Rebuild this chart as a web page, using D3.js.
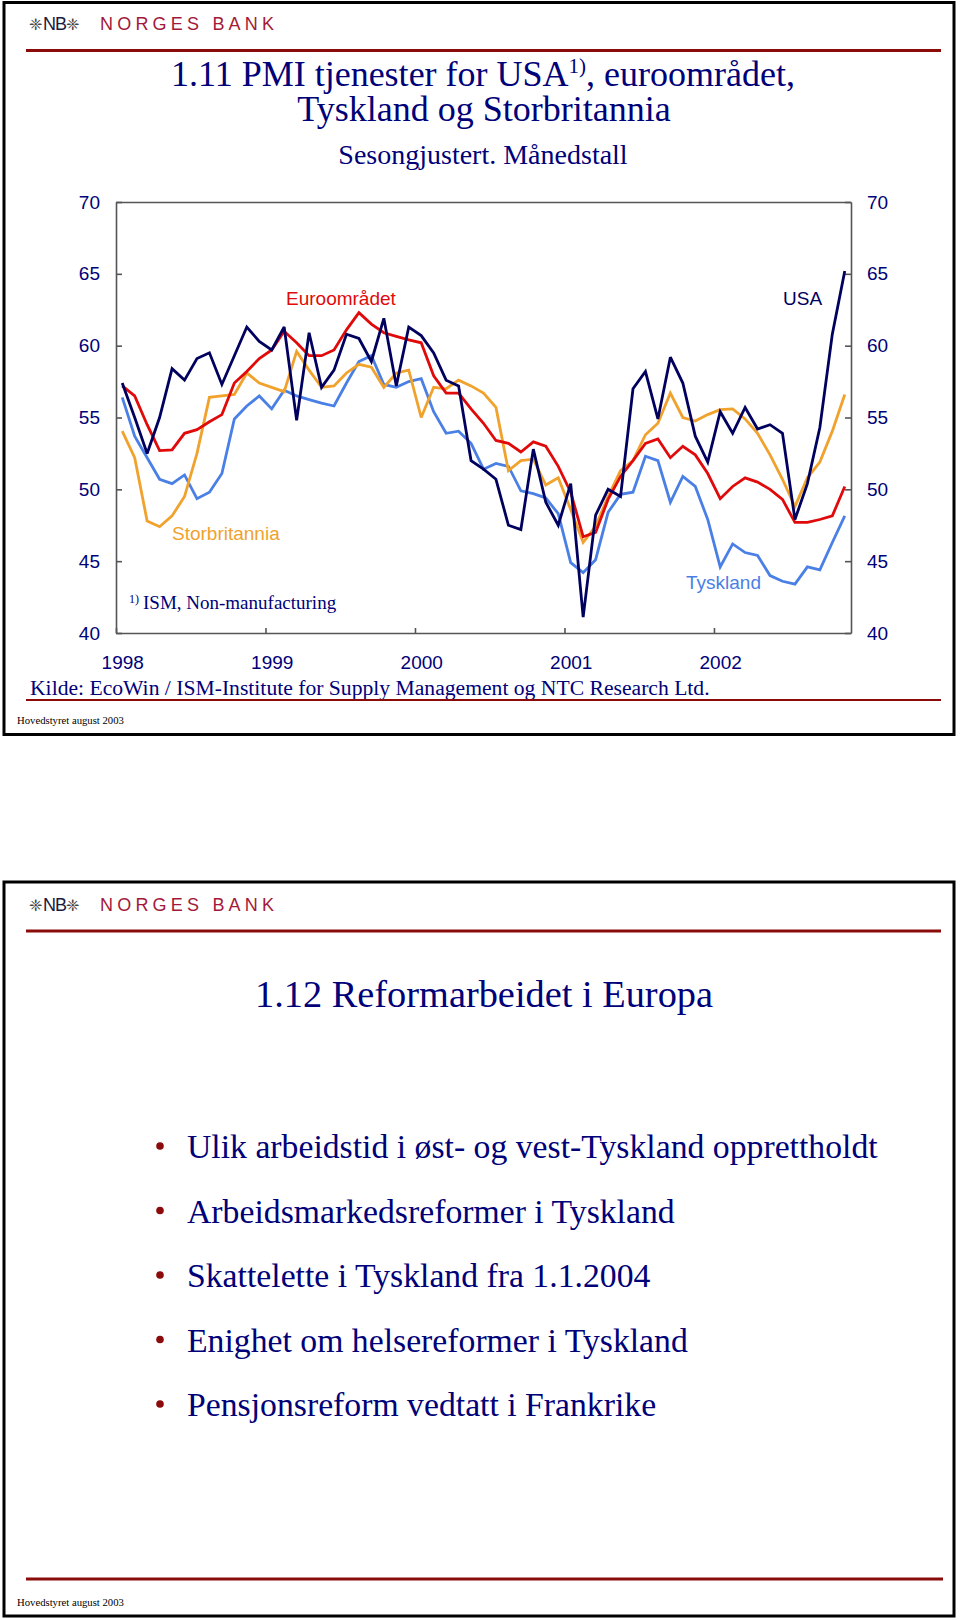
<!DOCTYPE html>
<html><head><meta charset="utf-8">
<script src="https://cdn.jsdelivr.net/npm/d3@7"></script>
<style>body{margin:0;background:#fff}svg{display:block}</style>
</head><body>
<svg id="c" width="960" height="1620"></svg>
<script>
// ---------- data ----------
const months = d3.range(59);                       // monthly observations (category index)
const yearLabels = ["1998","1999","2000","2001","2002"];
const yearLabelIdx = [0,12,24,36,48];
const yearTickIdx = [-0.5,11.5,23.5,35.5,47.5];
const yTicks = [40,45,50,55,60,65,70];

const usa = [57.4,55.0,52.5,55.0,58.4,57.6,59.1,59.5,57.3,59.3,
             61.3,60.3,59.7,61.3,54.8,60.9,57.1,58.3,60.8,60.5,
             58.9,61.9,57.2,61.3,60.7,59.5,57.6,57.2,52.0,51.4,
             50.7,47.5,47.2,52.8,49.1,47.5,50.4,41.1,48.2,50.0,
             49.5,57.0,58.2,54.9,59.2,57.4,53.7,51.9,55.4,53.9,
             55.7,54.2,54.5,53.9,47.9,50.4,54.3,60.8,65.2];
const euro = [57.2,56.5,54.5,52.7,52.75,53.9,54.15,54.7,55.2,57.4,
              58.2,59.1,59.7,61.0,60.2,59.3,59.3,59.7,61.1,62.3,
              61.5,60.9,60.65,60.4,60.2,57.9,56.7,56.7,55.6,54.6,
              53.4,53.2,52.6,53.3,53.0,51.6,49.8,46.7,47.0,49.3,
              50.9,52.0,53.2,53.5,52.2,53.0,52.4,51.1,49.35,50.2,
              50.8,50.5,50.0,49.3,47.7,47.7,47.9,48.15,50.2];
const germany = [56.4,53.7,52.2,50.7,50.4,51.0,49.35,49.8,51.1,54.9,
                 55.8,56.5,55.6,56.9,56.5,56.25,56.0,55.8,57.4,58.9,
                 59.3,57.3,57.1,57.5,57.7,55.4,53.9,54.05,53.2,51.4,
                 51.8,51.6,49.9,49.7,49.4,48.3,44.9,44.2,45.1,48.4,
                 49.65,49.8,52.3,52.0,49.1,50.9,50.2,47.9,44.6,46.2,
                 45.6,45.4,44.0,43.6,43.4,44.6,44.4,46.3,48.15];
const uk = [54.05,52.2,47.8,47.4,48.15,49.5,52.5,56.4,56.5,56.6,
            58.1,57.4,57.1,56.8,59.6,58.3,57.1,57.2,58.1,58.7,
            58.5,57.1,58.1,58.3,55.0,57.1,57.0,57.6,57.2,56.7,
            55.7,51.3,52.0,52.1,50.3,50.8,48.6,46.3,47.45,49.5,
            51.3,52.0,53.8,54.6,56.7,55.0,54.75,55.2,55.55,55.6,
            54.9,53.9,52.4,50.7,48.8,50.8,51.9,54.05,56.6];

const bullets = ["Ulik arbeidstid i øst- og vest-Tyskland opprettholdt",
                 "Arbeidsmarkedsreformer i Tyskland",
                 "Skattelette i Tyskland fra 1.1.2004",
                 "Enighet om helsereformer i Tyskland",
                 "Pensjonsreform vedtatt i Frankrike"];

// ---------- helpers ----------
const svg = d3.select("#c");
const NAVY = "#000078", DARKRED = "#8b0a0a";
const SERIF = "'Liberation Serif','Times New Roman',serif";
const SANS = "'Liberation Sans',Arial,sans-serif";
function fit(sel, w){
  const n = sel.node(); const cur = n.getComputedTextLength();
  const fs = parseFloat(sel.attr("font-size"));
  sel.attr("font-size", (fs*w/cur).toFixed(2));
  return sel;
}
function frame(y0,h){
  svg.append("rect").attr("x",4).attr("y",y0).attr("width",950).attr("height",h)
    .attr("fill","none").attr("stroke","#000").attr("stroke-width",3);
}
function logo(yb){
  const g = svg.append("g");
  g.append("text").attr("x",29).attr("y",yb).attr("font-family","DejaVu Sans").attr("font-size",16).attr("fill","#444").text("❈");
  g.append("text").attr("x",43).attr("y",yb).attr("font-family",SANS).attr("font-size",18).attr("letter-spacing",-1).attr("fill","#1a1a40").text("NB");
  g.append("text").attr("x",66).attr("y",yb).attr("font-family","DejaVu Sans").attr("font-size",16).attr("fill","#444").text("❈");
  g.append("text").attr("x",100).attr("y",yb).attr("font-family",SANS).attr("font-size",18)
    .attr("letter-spacing",4.2).attr("fill","#a3193a").text("NORGES BANK");
}
function hline(y,x1,x2,w){
  svg.append("line").attr("x1",x1).attr("x2",x2).attr("y1",y).attr("y2",y)
    .attr("stroke",DARKRED).attr("stroke-width",w);
}

// ---------- slide 1 ----------
frame(2.5,732);
logo(30);
hline(50.5,26,941,3);

const t1 = svg.append("text").attr("x",483).attr("y",86).attr("text-anchor","middle")
  .attr("font-family",SERIF).attr("font-size",36).attr("fill",NAVY);
t1.append("tspan").text("1.11 PMI tjenester for USA");
t1.append("tspan").attr("font-size",21).attr("dy",-13).text("1)");
t1.append("tspan").attr("dy",13).text(", euroområdet,");
svg.append("text").attr("x",484).attr("y",121).attr("text-anchor","middle")
  .attr("font-family",SERIF).attr("font-size",36).attr("fill",NAVY).text("Tyskland og Storbritannia");
svg.append("text").attr("x",483).attr("y",164).attr("text-anchor","middle")
  .attr("font-family",SERIF).attr("font-size",28).attr("fill",NAVY).text("Sesongjustert. Månedstall");

const x = d3.scaleLinear().domain([-0.5,58.5]).range([116,851]);
const y = d3.scaleLinear().domain([40,70]).range([633,202]);
const chart = svg.append("g");

const AX = "#555";
function styleAxis(g){
  g.selectAll("path,line").attr("stroke",AX).attr("stroke-width",1.6);
  g.selectAll("text").attr("font-family",SANS).attr("font-size",19).attr("fill",NAVY);
}
chart.append("g").attr("transform","translate(0,202)")
  .call(d3.axisTop(x).tickValues([]).tickSizeOuter(0)).call(styleAxis);
chart.append("g").attr("transform","translate(116,0)")
  .call(d3.axisLeft(y).tickValues(yTicks).tickSize(-6).tickSizeOuter(0).tickPadding(16)).call(styleAxis);
chart.append("g").attr("transform","translate(851,0)")
  .call(d3.axisRight(y).tickValues(yTicks).tickSize(-6).tickSizeOuter(0).tickPadding(16)).call(styleAxis);
chart.append("g").attr("transform","translate(0,633)")
  .call(d3.axisBottom(x).tickValues(yearTickIdx).tickSize(-5).tickSizeOuter(0).tickFormat("")).call(styleAxis);
const xl = chart.append("g").attr("transform","translate(0,633)")
  .call(d3.axisBottom(x).tickValues(yearLabelIdx).tickSize(0).tickPadding(23).tickFormat((d,i)=>yearLabels[i])).call(styleAxis);
xl.select(".domain").remove();

const line = d3.line().x((d,i)=>x(months[i])).y(d=>y(d));
const series = [
  {v:germany, c:"#4a7fe6"},
  {v:uk, c:"#f0a22c"},
  {v:euro, c:"#e00a0a"},
  {v:usa, c:"#00005e"}
];
chart.selectAll("path.s").data(series).join("path").attr("class","s")
  .attr("d",d=>line(d.v)).attr("fill","none").attr("stroke",d=>d.c)
  .attr("stroke-width",2.8).attr("stroke-linejoin","miter").attr("stroke-miterlimit",3);

function lab(txt,xx,yy,col){
  return chart.append("text").attr("x",xx).attr("y",yy).attr("font-family",SANS).attr("font-size",19).attr("fill",col).text(txt);
}
lab("Euroområdet",286,305,"#e00a0a");
lab("USA",783,305,"#00005e");
lab("Storbritannia",172,540,"#f0a22c");
lab("Tyskland",686,589,"#4a7fe6");
const fn = chart.append("text").attr("x",129).attr("y",609).attr("font-family",SERIF).attr("font-size",19).attr("fill",NAVY);
fn.append("tspan").attr("font-size",12).attr("dy",-6).text("1)");
fn.append("tspan").attr("x",143).attr("dy",6).text("ISM, Non-manufacturing");

const src = svg.append("text").attr("x",30).attr("y",695).attr("font-family",SERIF).attr("font-size",21).attr("fill",NAVY)
  .text("Kilde: EcoWin / ISM-Institute for Supply Management og NTC Research Ltd.");
fit(src,680);
hline(700,26,941,2);
const hv1 = svg.append("text").attr("x",17).attr("y",724).attr("font-family",SERIF).attr("font-size",11).attr("fill","#000").text("Hovedstyret august 2003");
fit(hv1,107);

// ---------- slide 2 ----------
frame(882,734);
logo(911);
hline(931,26,941,3);
const t2 = svg.append("text").attr("x",255).attr("y",1007).attr("font-family",SERIF).attr("font-size",37.5).attr("fill",NAVY)
  .text("1.12 Reformarbeidet i Europa");
fit(t2,458);
const rows = [1158,1222.5,1287,1351.5,1416];
const bg = svg.append("g");
bg.selectAll("circle").data(bullets).join("circle")
  .attr("cx",160).attr("cy",(d,i)=>rows[i]-12).attr("r",3.8).attr("fill",DARKRED);
const bt = bg.selectAll("text").data(bullets).join("text")
  .attr("x",187).attr("y",(d,i)=>rows[i]).attr("font-family",SERIF).attr("font-size",33.5).attr("fill",NAVY).text(d=>d);
const fs0 = 33.5*691/bt.nodes()[0].getComputedTextLength();
bt.attr("font-size",fs0.toFixed(2));
hline(1579,26,943,3);
const hv2 = svg.append("text").attr("x",17).attr("y",1606).attr("font-family",SERIF).attr("font-size",11).attr("fill","#000").text("Hovedstyret august 2003");
fit(hv2,107);
</script>
</body></html>
